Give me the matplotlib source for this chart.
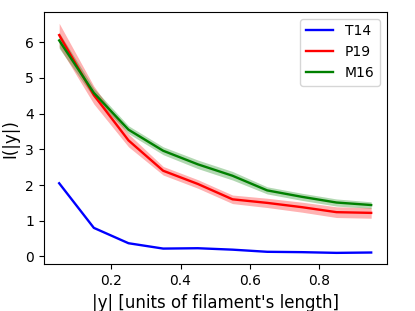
import matplotlib
matplotlib.use("Agg")
import matplotlib.pyplot as plt
import numpy as np

# distance from filament centre, in filament lengths
y_pos = np.array([0.05, 0.15, 0.25, 0.35, 0.45, 0.55, 0.65, 0.75, 0.85, 0.95])

# mean intensity profiles
t14 = np.array([2.05, 0.80, 0.37, 0.22, 0.23, 0.19, 0.13, 0.12, 0.10, 0.11])
p19 = np.array([6.20, 4.52, 3.25, 2.40, 2.03, 1.60, 1.50, 1.38, 1.24, 1.22])
m16 = np.array([6.05, 4.58, 3.55, 2.96, 2.58, 2.26, 1.85, 1.67, 1.51, 1.44])

# spread (half width of shaded band)
p19_err = np.array([0.33, 0.25, 0.18, 0.12, 0.12, 0.12, 0.13, 0.14, 0.15, 0.15])
m16_err = np.array([0.22, 0.13, 0.11, 0.11, 0.12, 0.12, 0.10, 0.10, 0.10, 0.09])

fig, ax = plt.subplots(figsize=(4.15, 3.11), dpi=100)

ax.plot(y_pos, t14, color="blue", lw=1.7, label="T14")
ax.plot(y_pos, p19, color="red", lw=1.7, label="P19")
ax.fill_between(y_pos, p19 - p19_err, p19 + p19_err, color="red", alpha=0.3, lw=0)
ax.plot(y_pos, m16, color="green", lw=1.7, label="M16")
ax.fill_between(y_pos, m16 - m16_err, m16 + m16_err, color="green", alpha=0.3, lw=0)

ax.set_xticks([0.2, 0.4, 0.6, 0.8])
ax.set_yticks(range(7))
ax.tick_params(labelsize=10)
ax.set_xlabel("|y| [units of filament's length]", fontsize=12)
ax.set_ylabel("I(|y|)", fontsize=12)
ax.legend(fontsize=10, loc="upper right")

fig.subplots_adjust(left=0.105, right=0.932, top=0.962, bottom=0.15)
fig.savefig("out.png", dpi=100)
